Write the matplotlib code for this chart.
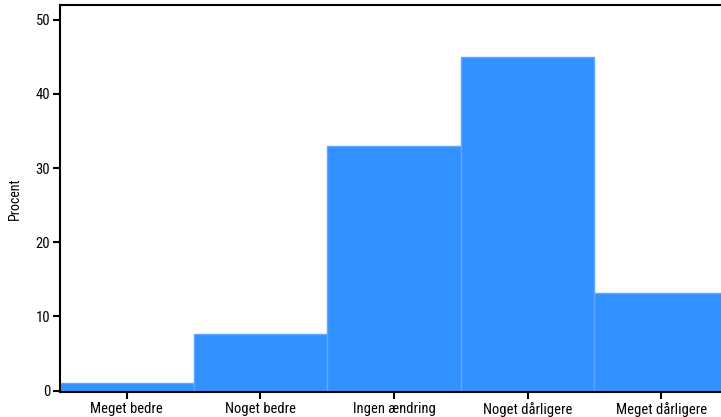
import matplotlib
matplotlib.use("Agg")
import matplotlib.pyplot as plt
from matplotlib import font_manager

categories = ["Meget bedre", "Noget bedre", "Ingen ændring", "Noget dårligere", "Meget dårligere"]
procent = [1.0, 7.6, 33.0, 45.0, 13.1]
y_ticks = [0, 10, 20, 30, 40, 50]

names = {f.name for f in font_manager.fontManager.ttflist}
fam = [n for n in ["Liberation Sans Narrow", "Roboto Condensed", "DejaVu Sans"] if n in names]
plt.rcParams["font.family"] = fam + ["DejaVu Sans"]

fig = plt.figure(figsize=(7.21, 4.17), dpi=100)
ax = fig.add_axes([60 / 721, 25 / 417, 668 / 721, 387 / 417])

x = range(len(categories))
ax.bar(x, procent, width=1.0, color="#3390ff", edgecolor="#5ea8ff", linewidth=1)

ax.set_xlim(-0.5, len(categories) - 0.5)
ax.set_ylim(-0.2, 52)
ax.set_yticks(y_ticks)
ax.set_xticks(list(x))
ax.set_xticklabels(categories)
ax.set_ylabel("Procent", fontsize=10, labelpad=10)

for s in ["left", "bottom", "top", "right"]:
    ax.spines[s].set_linewidth(1.5)
    ax.spines[s].set_color("black")
ax.tick_params(axis="both", length=5, width=1.5, labelsize=10.5, colors="black")
ax.tick_params(axis="x", pad=2)
ax.tick_params(axis="y", pad=2)

fig.savefig("out.png", dpi=100)
